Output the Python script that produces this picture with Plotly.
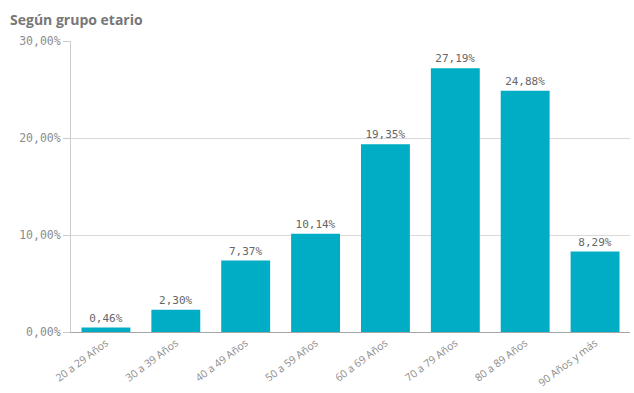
import plotly.graph_objects as go

categories = ["20 a 29 Años", "30 a 39 Años", "40 a 49 Años", "50 a 59 Años",
              "60 a 69 Años", "70 a 79 Años", "80 a 89 Años", "90 Años y más"]
values = [0.46, 2.30, 7.37, 10.14, 19.35, 27.19, 24.88, 8.29]
y_ticks = [0, 10, 20, 30]
y_tick_labels = ["0,00%", "10,00%", "20,00%", "30,00%"]

labels = [f"{v:.2f}%".replace(".", ",") for v in values]

fig = go.Figure(go.Bar(
    x=categories, y=values, text=labels, textposition="outside",
    marker=dict(color="#00ADC5", line=dict(width=0)),
    textfont=dict(family="DejaVu Sans Mono", size=11, color="#666666"),
    cliponaxis=False,
))

fig.update_layout(
    width=634, height=393,
    margin=dict(l=71, r=4, t=41, b=61, autoexpand=False),
    paper_bgcolor="white", plot_bgcolor="white",
    bargap=0.3,
    showlegend=False,
    title=dict(text="<b>Según grupo etario</b>", x=10 / 634, xref="container",
               xanchor="left", y=1 - 20 / 393, yref="container", yanchor="middle",
               font=dict(family="Open Sans", size=14, color="#777777")),
    xaxis=dict(showline=True, linecolor="#a6a6a6", linewidth=1,
               tickangle=-37, ticks="", automargin=False,
               tickfont=dict(family="Open Sans", size=10.5, color="#8c8c8c")),
    yaxis=dict(range=[0, 30], tickvals=y_ticks, ticktext=y_tick_labels,
               showline=True, linecolor="#cccccc", linewidth=1,
               ticks="outside", ticklen=7, tickcolor="#cccccc",
               showgrid=True, gridcolor="#d9d9d9", gridwidth=1,
               zeroline=False, automargin=False,
               tickfont=dict(family="DejaVu Sans Mono", size=11.5, color="#8c8c8c")),
)

fig.write_html("out.html", config={"displayModeBar": False})

with open("out.html", "r", encoding="utf-8") as f:
    html = f.read()
html = html.replace("<body>", '<body style="margin:0;padding:0;">', 1)
with open("out.html", "w", encoding="utf-8") as f:
    f.write(html)
